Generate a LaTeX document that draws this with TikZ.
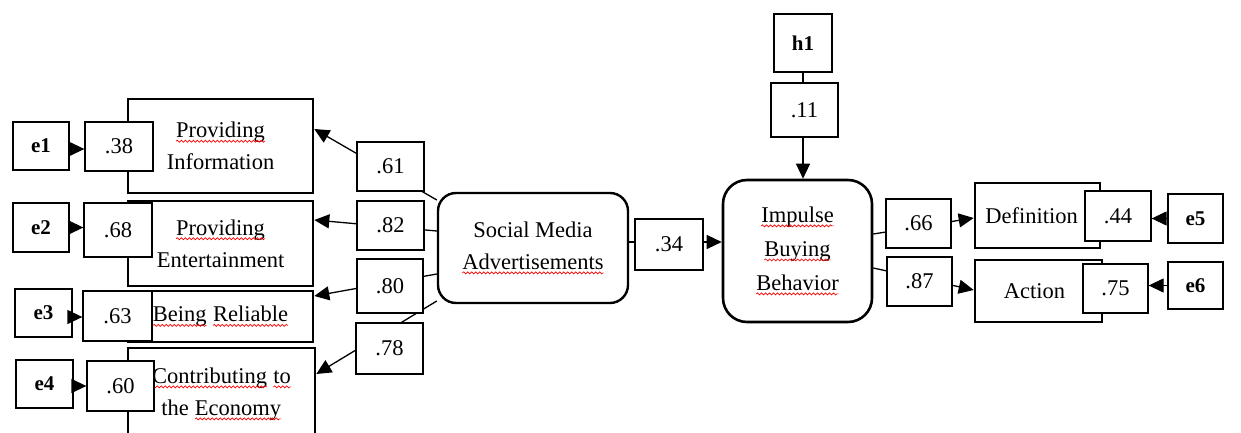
\documentclass[tikz,border=0pt]{standalone}
\usepackage{fontspec}
\setmainfont{Liberation Serif}
\usetikzlibrary{arrows.meta,decorations.pathmorphing}
\newcommand\sqw[1]{\tikz[baseline=(w.base),sharp corners]{\node[draw=none,fill=none,inner sep=0pt,outer sep=0pt,minimum width=0pt,minimum height=0pt,sharp corners](w){#1};\draw[red,line width=0.7pt,sharp corners,decorate,decoration={snake,amplitude=1pt,segment length=4pt}] ([yshift=-3.5pt]w.base west) -- ([yshift=-3.5pt]w.base east);}}
\begin{document}
\begin{tikzpicture}[x=1pt,y=-1pt,
  box/.style={draw, line width=1.3pt, fill=white, inner sep=0pt, align=center,
    font=\fontsize{22.5}{32}\selectfont},
  thickbox/.style={box, line width=2.6pt},
  errbox/.style={box, font=\fontsize{21}{24}\selectfont\bfseries},
  roundbox/.style={box, line width=2.4pt, rounded corners=18pt},
  arr/.style={-{Triangle[length=15pt,width=14pt]}, line width=1.3pt}]
\useasboundingbox (0,0) rectangle (1241,433);
\clip (0,0) rectangle (1241,433);
\fill[white] (0,0) rectangle (1241,433);

% indicator boxes
\node[thickbox, minimum width=185pt, minimum height=94pt] (pi) at (220.5,146) {\sqw{Providing}\\Information};
\node[thickbox, minimum width=185pt, minimum height=85pt] (pe) at (220.5,243.5) {\sqw{Providing}\\Entertainment};
\node[thickbox, minimum width=185pt, minimum height=51pt] (br) at (220.5,316.5) {\sqw{Being} \sqw{Reliable}};
\node[thickbox, minimum width=187pt, minimum height=92pt] (ce) at (221.5,394) {\sqw{Contributing} \sqw{to}\\the \sqw{Economy}};

% latent variables
\node[roundbox, minimum width=190pt, minimum height=110pt] (sma) at (533,248) {Social Media\\\sqw{Advertisements}};
\node[roundbox, line width=2.6pt, rounded corners=24pt, minimum width=149pt, minimum height=142pt, font=\fontsize{22.5}{34}\selectfont] (ibb) at (797.5,251) {\sqw{Impulse}\\\sqw{Buying}\\\sqw{Behavior}};
\node[errbox, minimum width=58pt, minimum height=58pt] (h1) at (803,43) {h1};

\node[thickbox, minimum width=125pt, minimum height=65pt] (def) at (1037.5,215.5) {Definition\hspace*{12pt}};
\node[thickbox, minimum width=127pt, minimum height=62pt] (act) at (1038.5,291) {Action\hspace*{8pt}};

% connectors (drawn under the value boxes)
\draw[arr] ([yshift=48pt]sma.west) -- ([yshift=17pt]pi.east);
\draw[arr] ([yshift=17pt]sma.west) -- ([yshift=23.5pt]pe.east);
\draw[arr] ([yshift=-26pt]sma.west) -- ([yshift=20.5pt]br.east);
\draw[arr] ([yshift=-53pt]sma.west) -- ([yshift=20pt]ce.east);
\draw[arr] ([yshift=6pt]sma.east) -- ([yshift=9pt]ibb.west);
\draw[arr] (h1.south) -- (h1.south |- ibb.north);
\draw[arr] ([yshift=17pt]ibb.east) -- ([yshift=-2.5pt]def.west);
\draw[arr] ([yshift=-17pt]ibb.east) -- ([yshift=1pt]act.west);

% value boxes
\node[box, minimum width=67pt, minimum height=49pt] (l61) at (390.5,166.5) {.61};
\node[box, minimum width=67pt, minimum height=49pt] (l82) at (390.5,225.5) {.82};
\node[box, minimum width=66pt, minimum height=54pt] (l80) at (390,286) {.80};
\node[box, minimum width=67pt, minimum height=51pt] (l78) at (389.5,348.5) {.78};
\node[box, minimum width=68pt, minimum height=51pt] (l34) at (669,244.5) {.34};
\node[box, minimum width=67pt, minimum height=54pt] (l11) at (804.5,110) {.11};
\node[box, minimum width=65pt, minimum height=49pt] (l66) at (918.5,223.5) {.66};
\node[box, minimum width=65pt, minimum height=49pt] (l87) at (919.5,281.5) {.87};

\node[box, minimum width=68pt, minimum height=49pt] (l38) at (119,146.5) {.38};
\node[box, minimum width=68pt, minimum height=54pt] (l68) at (118,230) {.68};
\node[box, minimum width=69pt, minimum height=50pt] (l63) at (117.5,316) {.63};
\node[box, minimum width=67pt, minimum height=50pt] (l60) at (120.5,386) {.60};
\node[box, minimum width=66pt, minimum height=50pt] (l44) at (1118,216) {.44};
\node[box, minimum width=65pt, minimum height=49pt] (l75) at (1115.5,288.5) {.75};

% error terms
\node[errbox, minimum width=56pt, minimum height=48pt] (e1) at (41,146) {e1};
\node[errbox, minimum width=56pt, minimum height=49pt] (e2) at (41,227.5) {e2};
\node[errbox, minimum width=57pt, minimum height=48pt] (e3) at (43.5,313) {e3};
\node[errbox, minimum width=57pt, minimum height=48pt] (e4) at (44.5,384) {e4};
\node[errbox, minimum width=55pt, minimum height=49pt] (e5) at (1195.5,218.5) {e5};
\node[errbox, minimum width=55pt, minimum height=47pt] (e6) at (1195.5,285.5) {e6};

\draw[arr] ([yshift=-3pt]e1.east) -- ([yshift=-3pt]e1.east -| l38.west);
\draw[arr] (e2.east) -- (e2.east -| l68.west);
\draw[arr] ([yshift=-4pt]e3.east) -- ([yshift=-4pt]e3.east -| l63.west);
\draw[arr] ([yshift=-2pt]e4.east) -- ([yshift=-2pt]e4.east -| l60.west);
\draw[arr] (e5.west) -- (e5.west -| l44.east);
\draw[arr] (e6.west) -- (e6.west -| l75.east);
\end{tikzpicture}
\end{document}
